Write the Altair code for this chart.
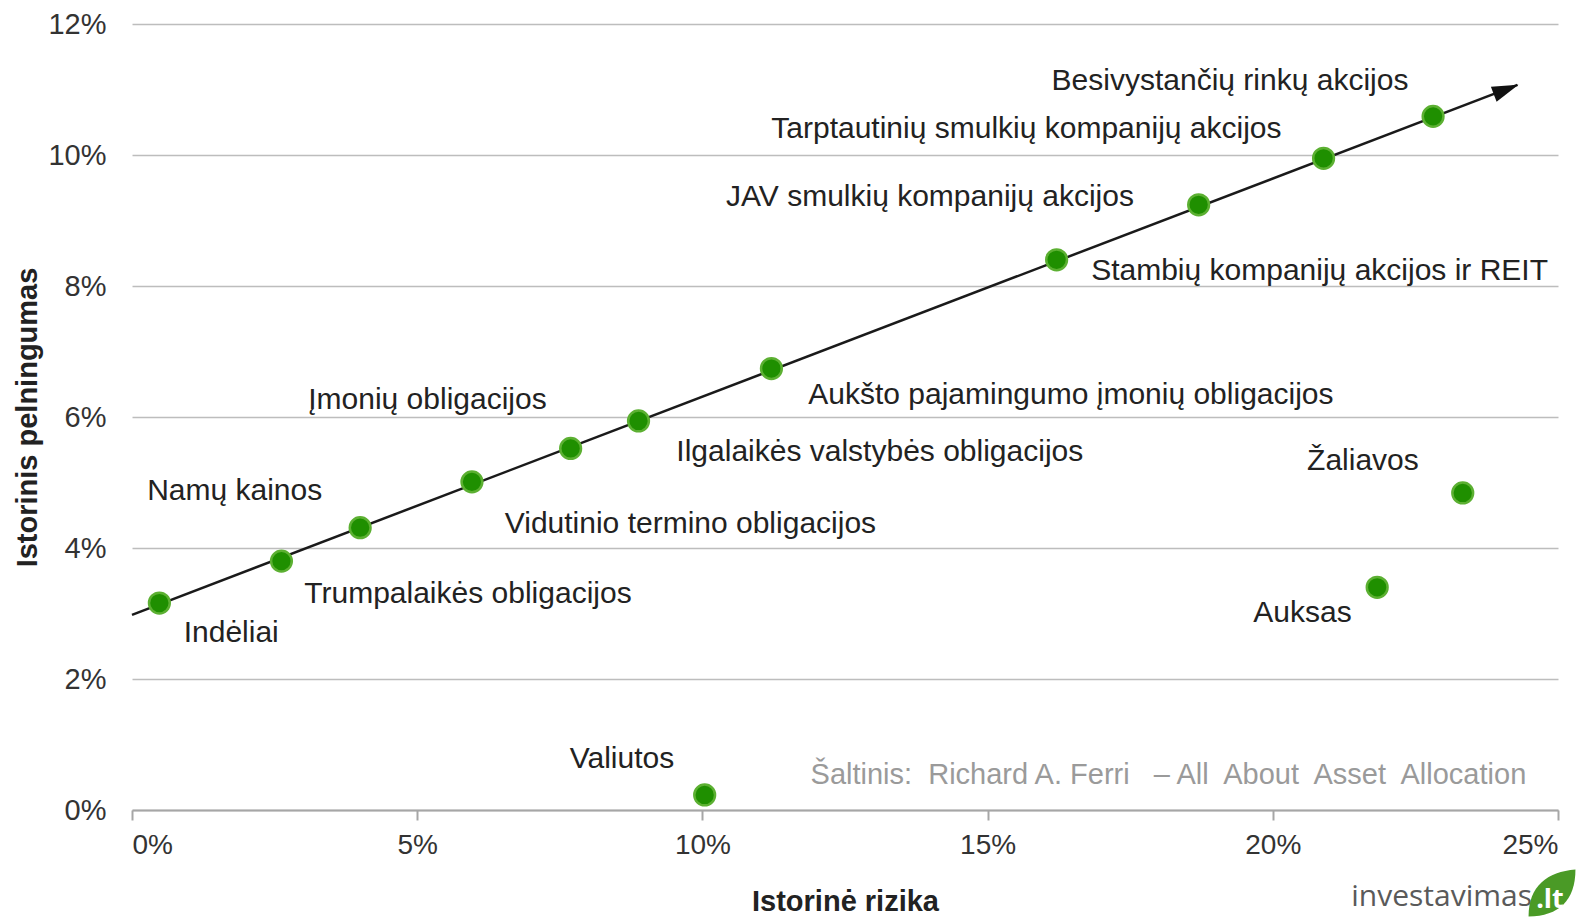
import altair as alt
import pandas as pd

# ---- data ----
names = ["Indėliai", "Trumpalaikės obligacijos", "Namų kainos", "Įmonių obligacijos",
         "Vidutinio termino obligacijos", "Ilgalaikės valstybės obligacijos",
         "Aukšto pajamingumo įmonių obligacijos", "Stambių kompanijų akcijos ir REIT",
         "JAV smulkių kompanijų akcijos", "Tarptautinių smulkių kompanijų akcijos",
         "Besivystančių rinkų akcijos", "Žaliavos", "Auksas", "Valiutos"]
risk = [0.48, 2.62, 4.00, 5.96, 7.69, 8.88, 11.21, 16.21, 18.70, 20.89, 22.81, 23.33, 21.83, 10.04]
ret = [3.16, 3.80, 4.31, 5.01, 5.52, 5.94, 6.74, 8.40, 9.24, 9.95, 10.59, 4.84, 3.40, 0.23]

# label anchor positions (data units)
label_x = [1.74, 5.89, 1.80, 5.18, 9.79, 13.11, 16.46, 20.82, 13.99, 15.68, 19.25, 21.58, 20.52, 8.59]
label_y = [2.70, 3.30, 4.87, 6.26, 4.37, 5.47, 6.33, 8.23, 9.36, 10.39, 11.13, 5.33, 3.01, 0.78]

trend_x = [0.0, 24.29]
trend_y = [2.98, 11.07]
arrow_x = [24.09]
arrow_y = [11.00]

source_text = ["Šaltinis:\u00a0 Richard A. Ferri \u00a0\u00a0– All\u00a0 About\u00a0 Asset\u00a0 Allocation"]
source_x = [18.17]
source_y = [0.54]

x_ticks = [0, 5, 10, 15, 20, 25]
y_ticks = [0, 2, 4, 6, 8, 10, 12]

pts = pd.DataFrame({"x": risk, "y": ret, "name": names})
lbl = pd.DataFrame({"x": label_x, "y": label_y, "name": names})
trend = pd.DataFrame({"x": trend_x, "y": trend_y})
arrow = pd.DataFrame({"x": arrow_x, "y": arrow_y})
src = pd.DataFrame({"x": source_x, "y": source_y, "t": source_text})

FONT = "Liberation Sans"

xs = alt.Scale(domain=[0, 25], nice=False, zero=True)
ys = alt.Scale(domain=[0, 12], nice=False, zero=True)
xaxis = alt.Axis(values=x_ticks, labelExpr="datum.value + '%'", grid=False,
                 domain=True, domainColor="#a6a6a6", domainWidth=2,
                 ticks=True, tickColor="#a6a6a6", tickWidth=2, tickSize=10,
                 labelFontSize=28, labelColor="#333", labelFont=FONT, labelPadding=11,
                 titleFontSize=29, titleFontWeight="bold", titleColor="#222",
                 titleFont=FONT, titlePadding=28)
yaxis = alt.Axis(values=y_ticks, labelExpr="datum.value + '%'", grid=True,
                 gridColor="#bdbdbd", gridWidth=1.5, domain=False, ticks=False,
                 labelFontSize=29, labelColor="#333", labelFont=FONT, labelPadding=26,
                 titleFontSize=29, titleFontWeight="bold", titleColor="#222",
                 titleFont=FONT, titlePadding=5)

X = alt.X("x:Q", scale=xs, axis=xaxis, title="Istorinė rizika")
Y = alt.Y("y:Q", scale=ys, axis=yaxis, title="Istorinis pelningumas")

line = alt.Chart(trend).mark_line(color="#1a1a1a", strokeWidth=2.5).encode(x=X, y=Y)

head = alt.Chart(arrow).mark_point(
    shape="M 1 0 L -1 -0.6 L -1 0.6 Z", angle=339, size=700, filled=True,
    color="#111", opacity=1
).encode(x=X, y=Y)

points = alt.Chart(pts).mark_point(
    shape="circle", size=430, filled=True, fill="#1f8f00", stroke="#5cb032",
    strokeWidth=2.5, opacity=1
).encode(x=X, y=Y)

labels = alt.Chart(lbl).mark_text(
    font=FONT, fontSize=30, color="#222", align="center", baseline="middle"
).encode(x=X, y=Y, text="name:N")

source = alt.Chart(src).mark_text(
    font=FONT, fontSize=29, color="#9a9a9a", align="center", baseline="middle"
).encode(x=X, y=Y, text="t:N")

logo_df = pd.DataFrame({"t": ["investavimas"]})
logo_text = alt.Chart(logo_df).mark_text(
    font="Open Sans", fontSize=30, color="#5a5a5a", align="right", baseline="alphabetic"
).encode(x=alt.value(1400), y=alt.value(882), text="t:N")

leaf = alt.Chart(logo_df).mark_point(
    shape="M -1 1 C -1 -0.3 -0.2 -0.9 1 -1 C 1 0.3 0.3 1 -1 1 Z",
    size=2200, filled=True, color="#4a9a26", opacity=1
).encode(x=alt.value(1420), y=alt.value(869))

leaf_text = alt.Chart(pd.DataFrame({"t": [".lt"]})).mark_text(
    font="Open Sans", fontSize=27, color="white", fontWeight="bold", align="center",
    baseline="alphabetic"
).encode(x=alt.value(1418), y=alt.value(884), text="t:N")

chart = alt.layer(line, head, points, labels, source, logo_text, leaf, leaf_text).properties(
    width=1426, height=786,
    autosize=alt.AutoSizeParams(type="none"),
    padding={"left": 124, "top": 16, "right": 25, "bottom": 108},
    background="white",
).configure_view(stroke=None)

chart.save("out.html", embed_options={"renderer": "svg", "actions": False})
